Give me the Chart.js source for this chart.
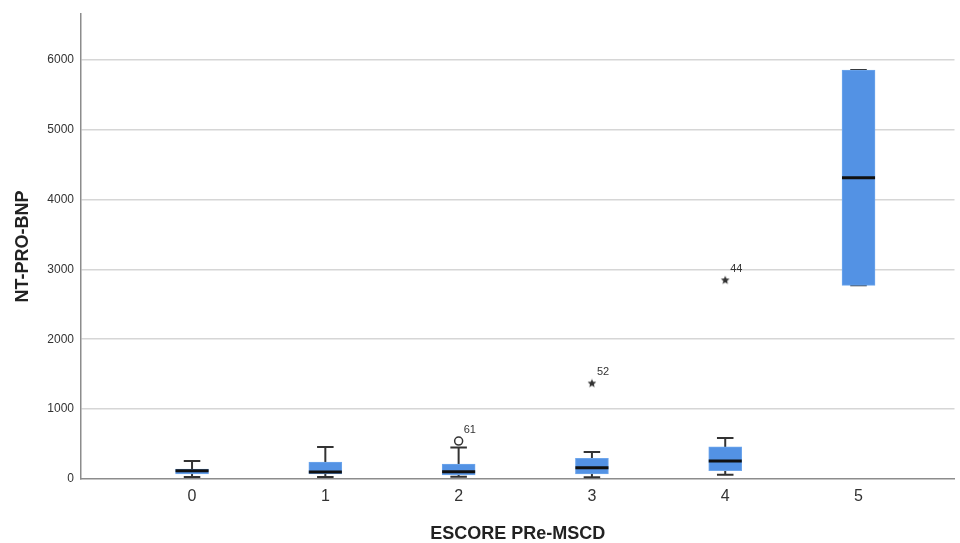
<!DOCTYPE html>
<html>
<head>
<meta charset="utf-8">
<script src="https://cdn.jsdelivr.net/npm/chart.js@4.4.1/dist/chart.umd.min.js"></script>
<style>
  html, body { margin: 0; padding: 0; background: #ffffff; }
  #wrap { width: 960px; height: 543px; }
</style>
</head>
<body>
<div id="wrap"><canvas id="chart" width="960" height="543"></canvas></div>
<script>
// ESCORE PRe-MSCD groups and NT-PRO-BNP box plot summaries
const categories = [0, 1, 2, 3, 4, 5];
const whiskerLow = [29, 29, 33, 24, 62, 2771];
const quartile1  = [71, 71, 57, 71, 119, 2771];
const medians    = [119, 100, 105, 162, 257, 4310];
const quartile3  = [143, 243, 214, 295, 462, 5852];
const whiskerHigh = [257, 457, 452, 386, 586, 5852];

// Outlying cases (case number, group, value, extreme or not)
const outlierGroups = [2, 3, 4];
const outlierValues = [543, 1367, 2843];
const outlierCases  = ['61', '52', '44'];
const outlierExtreme = [false, true, true];

const yTicks = [0, 1000, 2000, 3000, 4000, 5000, 6000];

const BOX_HALF = 0.124;   // half box width, in category units
const CAP_HALF = 0.062;   // half whisker cap width

// Small filled five-point star for extreme values
function makeStar(size) {
  const c = document.createElement('canvas');
  c.width = size; c.height = size;
  const g = c.getContext('2d');
  const cx = size / 2, cy = size / 2, ro = size / 2 - 0.5, ri = ro * 0.45;
  g.beginPath();
  for (let i = 0; i < 10; i++) {
    const r = i % 2 === 0 ? ro : ri;
    const a = -Math.PI / 2 + i * Math.PI / 5;
    const px = cx + r * Math.cos(a), py = cy + r * Math.sin(a);
    if (i === 0) g.moveTo(px, py); else g.lineTo(px, py);
  }
  g.closePath();
  g.fillStyle = '#333333';
  g.fill();
  return c;
}
const starImg = makeStar(10);

// Segment lists built from the summaries
const whiskerPts = [];
const capPts = [];
const medianPts = [];
categories.forEach((c, i) => {
  whiskerPts.push({x: c, y: whiskerLow[i]}, {x: c, y: whiskerHigh[i]}, {x: c, y: null});
  capPts.push({x: c - CAP_HALF, y: whiskerHigh[i]}, {x: c + CAP_HALF, y: whiskerHigh[i]}, {x: c, y: null});
  capPts.push({x: c - CAP_HALF, y: whiskerLow[i]}, {x: c + CAP_HALF, y: whiskerLow[i]}, {x: c, y: null});
  medianPts.push({x: c - BOX_HALF, y: medians[i]}, {x: c + BOX_HALF, y: medians[i]}, {x: c, y: null});
});
const boxData = categories.map((c, i) => ({x: c, y: [quartile1[i], quartile3[i]]}));
const outlierData = outlierGroups.map((g, i) => ({x: g, y: outlierValues[i]}));

// Case numbers next to the outlying points
const caseLabels = {
  id: 'caseLabels',
  afterDatasetsDraw(chart) {
    const idx = chart.data.datasets.findIndex(d => d.label === 'Outliers');
    const meta = chart.getDatasetMeta(idx);
    const ctx = chart.ctx;
    ctx.save();
    ctx.font = '11px "Liberation Sans", Arial, sans-serif';
    ctx.fillStyle = '#333333';
    ctx.textAlign = 'left';
    ctx.textBaseline = 'middle';
    meta.data.forEach((el, i) => {
      ctx.fillText(outlierCases[i], el.x + 5, el.y - 11);
    });
    ctx.restore();
  }
};

new Chart(document.getElementById('chart'), {
  type: 'bar',
  data: {
    datasets: [
      {
        type: 'line', label: 'Whiskers', data: whiskerPts, order: 4,
        borderColor: '#333333', borderWidth: 2, pointRadius: 0, spanGaps: false, fill: false
      },
      {
        type: 'line', label: 'Caps', data: capPts, order: 3,
        borderColor: '#333333', borderWidth: 2, pointRadius: 0, spanGaps: false, fill: false
      },
      {
        type: 'bar', label: 'Boxes', data: boxData, order: 2,
        backgroundColor: '#5392e4', borderColor: '#6ea6ec', borderWidth: 1,
        borderSkipped: false, barThickness: 33, grouped: false
      },
      {
        type: 'line', label: 'Medians', data: medianPts, order: 1,
        borderColor: '#111111', borderWidth: 3, pointRadius: 0, spanGaps: false, fill: false
      },
      {
        type: 'line', label: 'Outliers', data: outlierData, order: 0, showLine: false,
        pointStyle: outlierExtreme.map(e => e ? starImg : 'circle'),
        pointRadius: 4, borderWidth: 1.5,
        pointBackgroundColor: '#ffffff', pointBorderColor: '#333333'
      }
    ]
  },
  options: {
    responsive: false,
    animation: false,
    events: [],
    layout: { padding: { top: 13, right: 2, left: 0, bottom: 0 } },
    plugins: { legend: { display: false }, tooltip: { enabled: false } },
    scales: {
      x: {
        type: 'linear',
        offset: false,
        min: -0.833,
        max: 5.72,
        afterBuildTicks(scale) { scale.ticks = categories.map(v => ({ value: v })); },
        afterFit(scale) { scale.height = 64; },
        grid: { display: false, drawTicks: false, offset: false },
        border: { display: true, color: '#8c8c8c', width: 1.5 },
        ticks: {
          padding: 8,
          color: '#333333',
          font: { family: '"Liberation Sans", Arial, sans-serif', size: 16 },
          callback: v => String(v)
        },
        title: {
          display: true,
          text: 'ESCORE PRe-MSCD',
          color: '#222222',
          padding: { top: 0, bottom: 0 },
          font: { family: '"Liberation Sans", Arial, sans-serif', size: 18, weight: 'bold', lineHeight: 1 }
        }
      },
      y: {
        type: 'linear',
        min: 0,
        max: 6650,
        afterBuildTicks(scale) { scale.ticks = yTicks.map(v => ({ value: v })); },
        afterFit(scale) { scale.width = 81; },
        grid: {
          drawTicks: false,
          color: ctx => (ctx.tick && ctx.tick.value === 0) ? 'rgba(0,0,0,0)' : '#d6d6d6',
          lineWidth: 1.5
        },
        border: { display: true, color: '#8c8c8c', width: 1.5 },
        ticks: {
          padding: 7,
          color: '#333333',
          font: { family: '"Liberation Sans", Arial, sans-serif', size: 12 },
          callback: v => String(v)
        },
        title: {
          display: true,
          text: 'NT-PRO-BNP',
          color: '#222222',
          padding: { top: 12, bottom: 0 },
          font: { family: '"Liberation Sans", Arial, sans-serif', size: 18, weight: 'bold', lineHeight: 1.2 }
        }
      }
    }
  },
  plugins: [caseLabels]
});
</script>
</body>
</html>
